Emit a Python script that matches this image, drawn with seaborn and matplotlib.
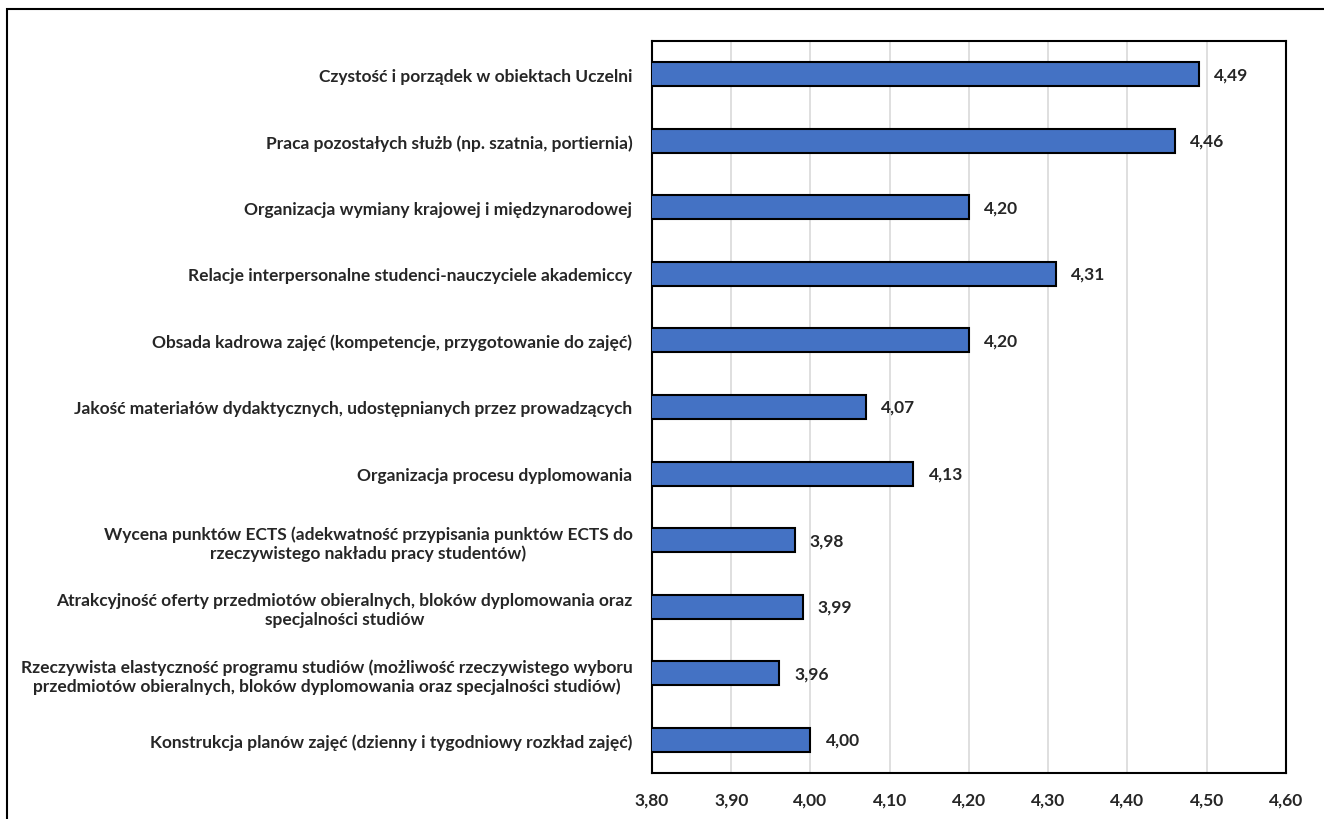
import pandas as pd
import matplotlib.pyplot as plt
import seaborn as sns
from matplotlib.patches import Rectangle

categories = [
    "Czystość i porządek w obiektach Uczelni",
    "Praca pozostałych służb (np. szatnia, portiernia)",
    "Organizacja wymiany krajowej i międzynarodowej",
    "Relacje interpersonalne studenci-nauczyciele akademiccy",
    "Obsada kadrowa zajęć (kompetencje, przygotowanie do zajęć)",
    "Jakość materiałów dydaktycznych, udostępnianych przez prowadzących",
    "Organizacja procesu dyplomowania",
    "Wycena punktów ECTS (adekwatność przypisania punktów ECTS do\nrzeczywistego nakładu pracy studentów)",
    "Atrakcyjność oferty przedmiotów obieralnych, bloków dyplomowania oraz\nspecjalności studiów",
    "Rzeczywista elastyczność programu studiów (możliwość rzeczywistego wyboru\nprzedmiotów obieralnych, bloków dyplomowania oraz specjalności studiów)",
    "Konstrukcja planów zajęć (dzienny i tygodniowy rozkład zajęć)",
]
values = [4.49, 4.46, 4.20, 4.31, 4.20, 4.07, 4.13, 3.98, 3.99, 3.96, 4.00]
xticks = [3.80, 3.90, 4.00, 4.10, 4.20, 4.30, 4.40, 4.50, 4.60]

df = pd.DataFrame({"kategoria": categories, "ocena": values})

sns.set_style("white")
plt.rcParams["font.family"] = ["Lato", "DejaVu Sans"]
plt.rcParams["font.weight"] = "bold"

fs = 12.5
fig = plt.figure(figsize=(13.24, 8.2), dpi=100)
ax = fig.add_axes([0.4924, 0.0561, 0.4789, 0.8927])

sns.barplot(data=df, x="ocena", y="kategoria", color="#4472C4", saturation=1,
            width=0.36, edgecolor="black", linewidth=1.5, ax=ax, zorder=3)

ax.set_xlim(3.80, 4.60)
ax.set_xticks(xticks)
ax.set_xticklabels([f"{t:.2f}".replace(".", ",") for t in xticks],
                   fontsize=fs, fontweight="bold")
ax.tick_params(axis="x", length=0, pad=13)
ax.tick_params(axis="y", length=0, pad=14)
for lbl in ax.get_yticklabels():
    lbl.set_fontsize(fs)
    lbl.set_fontweight("bold")
    lbl.set_multialignment("center")
ax.set_xlabel("")
ax.set_ylabel("")
ax.grid(axis="x", color="#D9D9D9", linewidth=1.2, zorder=0)
ax.set_axisbelow(True)
for s in ax.spines.values():
    s.set_color("black")
    s.set_linewidth(1.5)

ax.bar_label(ax.containers[0], labels=[f"{v:.2f}".replace(".", ",") for v in values],
             padding=11, fontsize=fs, fontweight="bold")

# outer frame (right and bottom edges fall outside the image)
fig.patches.append(Rectangle((0.0053, -0.1), 2, 1.088, transform=fig.transFigure,
                             fill=False, edgecolor="black", linewidth=1.5))

fig.savefig("out.png", dpi=100)
